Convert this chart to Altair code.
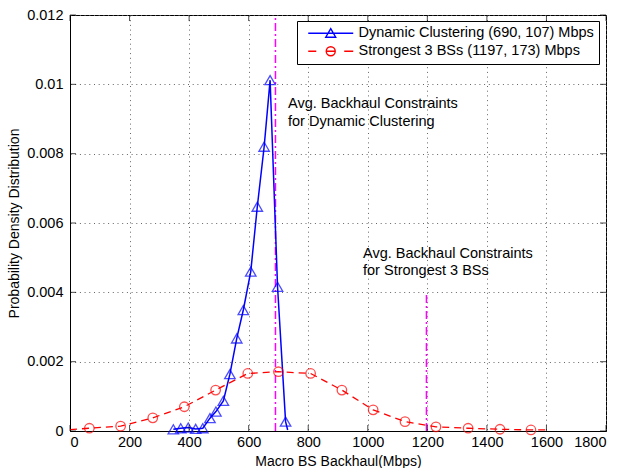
import altair as alt
import pandas as pd

# ---------------- data ----------------
series_names = ["Dynamic Clustering (690, 107) Mbps", "Strongest 3 BSs (1197, 173) Mbps"]
series_colors = ["#0000ff", "#ff0000"]

# Dynamic Clustering curve (last point is the line end, no marker)
dc_x = [347, 372, 397, 422, 446, 470, 490, 515, 537, 560, 582, 607, 629, 652, 672, 697, 724, 731]
dc_y = [0.00005, 0.00008, 0.0001, 0.00006, 0.00008, 0.00037, 0.00056, 0.00087, 0.00164,
        0.00267, 0.00349, 0.0046, 0.00647, 0.0082, 0.01012, 0.00416, 0.00027, 0.00003]
dc_marker = [True, True, True, True, True, True, True, True, True,
             True, True, True, True, True, True, True, True, False]

# Strongest 3 BSs curve (first and last points are line ends, no marker)
s3_x = [0, 65, 170, 278, 384, 489, 597, 700, 808, 913, 1018, 1125, 1229, 1337, 1444, 1548, 1600]
s3_y = [0.00004, 0.00008, 0.00014, 0.00038, 0.0007, 0.00118, 0.00166, 0.00171, 0.00166,
        0.00118, 0.00061, 0.00027, 0.00012, 0.00008, 0.00005, 0.00003, 0.00003]
s3_marker = [False, True, True, True, True, True, True, True, True,
             True, True, True, True, True, True, True, False]

# average backhaul constraints (vertical dash-dot lines)
constraint_x = [690, 1197]
constraint_top = [0.012, 0.004]

# annotations
ann_text = ["Avg. Backhaul Constraints", "for Dynamic Clustering",
            "Avg. Backhaul Constraints", "for Strongest 3 BSs"]
ann_x = [732, 732, 984, 984]
ann_y = [0.00943, 0.00891, 0.00511, 0.00462]

x_ticks = [0, 200, 400, 600, 800, 1000, 1200, 1400, 1600, 1800]
y_ticks = [0, 0.002, 0.004, 0.006, 0.008, 0.01, 0.012]

# ---------------- tables ----------------
dc = pd.DataFrame({"x": dc_x, "y": dc_y, "m": dc_marker})
s3 = pd.DataFrame({"x": s3_x, "y": s3_y, "m": s3_marker})
cons = pd.DataFrame({"x": constraint_x, "y": [0, 0], "top": constraint_top})
ann = pd.DataFrame({"t": ann_text, "x": ann_x, "y": ann_y})
xt_bottom = pd.DataFrame({"x": x_ticks, "y": [y_ticks[0]] * len(x_ticks)})
xt_top = pd.DataFrame({"x": x_ticks, "y": [y_ticks[-1]] * len(x_ticks)})
yt_left = pd.DataFrame({"y": y_ticks, "x": [x_ticks[0]] * len(y_ticks)})
yt_right = pd.DataFrame({"y": y_ticks, "x": [x_ticks[-1]] * len(y_ticks)})
leg = pd.DataFrame({"series": series_names})

FONT = "Liberation Sans"
xs = alt.Scale(domain=[0, 1800], nice=False, zero=False)
ys = alt.Scale(domain=[0, 0.012], nice=False)

X = alt.X("x:Q", scale=xs,
          axis=alt.Axis(values=x_ticks, format="d", title="Macro BS Backhaul(Mbps)",
                        grid=True, ticks=False, labelPadding=4, titleY=30,
                        titleBaseline="middle"))
Y = alt.Y("y:Q", scale=ys,
          axis=alt.Axis(values=y_ticks, format="~g", title="Probability Density Distribution",
                        grid=True, ticks=False, labelPadding=7, titleX=-56, titleY=208,
                        titleBaseline="middle"))

cons_layer = alt.Chart(cons).mark_rule(color="#ff00ff", strokeWidth=1.5,
                                       strokeDash=[8, 3, 2, 3]).encode(
    x=X, y=Y, y2="top:Q")

dc_line = alt.Chart(dc).mark_line(color=series_colors[0], strokeWidth=1.5).encode(
    x=X, y=Y, order="x:Q")
s3_line = alt.Chart(s3).mark_line(color=series_colors[1], strokeWidth=1.3,
                                  strokeDash=[7, 5]).encode(x=X, y=Y, order="x:Q")

dc_pts = alt.Chart(dc).transform_filter("datum.m").mark_point(
    shape="triangle-up", size=110, filled=False, color=series_colors[0], strokeWidth=1.3
).encode(x=X, y=Y)
s3_pts = alt.Chart(s3).transform_filter("datum.m").mark_point(
    shape="circle", size=90, filled=False, color=series_colors[1], strokeWidth=1.3
).encode(x=X, y=Y)

ann_layer = alt.Chart(ann).mark_text(align="left", baseline="middle", font=FONT,
                                     fontSize=14.5, color="black").encode(
    x=X, y=Y, text="t:N")

# inward tick marks on all four sides
tick_b = alt.Chart(xt_bottom).mark_tick(orient="vertical", size=6, thickness=1,
                                        color="black", yOffset=-3).encode(x=X, y=Y)
tick_t = alt.Chart(xt_top).mark_tick(orient="vertical", size=6, thickness=1,
                                     color="black", yOffset=3).encode(x=X, y=Y)
tick_l = alt.Chart(yt_left).mark_tick(orient="horizontal", size=6, thickness=1,
                                      color="black", xOffset=3).encode(x=X, y=Y)
tick_r = alt.Chart(yt_right).mark_tick(orient="horizontal", size=6, thickness=1,
                                       color="black", xOffset=-3).encode(x=X, y=Y)

# legend carrier: custom path symbols (line + marker)
blue_sym = "M-0.17,0L7.33,0M3.58,-0.77L4.41,0.67L2.75,0.67Z"
red_sym = ("M-0.17,0L1.17,0M5.83,0L7.33,0M2.83,0L4.33,0"
           "M4.33,0A0.75,0.75 0 1,1 2.83,0A0.75,0.75 0 1,1 4.33,0")
legend_layer = alt.Chart(leg).mark_point(opacity=0, filled=False, strokeWidth=1.4).encode(
    color=alt.Color("series:N", scale=alt.Scale(domain=series_names, range=series_colors),
                    legend=alt.Legend(title=None, orient="none", legendX=227, legendY=6,
                                      symbolSize=144, symbolOpacity=1,
                                      symbolStrokeWidth=1.4, labelOffset=42)),
    shape=alt.Shape("series:N", scale=alt.Scale(domain=series_names,
                                                range=[blue_sym, red_sym])),
)

chart = alt.layer(
    cons_layer, s3_line, dc_line, s3_pts, dc_pts, ann_layer,
    tick_b, tick_t, tick_l, tick_r, legend_layer
).properties(
    width=536, height=416, autosize="none",
    padding={"left": 70, "top": 15, "right": 17, "bottom": 37},
    background="white",
).configure_view(stroke="black", strokeWidth=1).configure_axis(
    labelFont=FONT, titleFont=FONT, labelFontSize=14.5, titleFontSize=14,
    titleFontWeight="normal", labelColor="black", titleColor="black",
    domainColor="black", gridColor="#666666", gridDash=[1, 3.7], gridOpacity=1,
    gridWidth=1,
).configure_legend(
    labelFont=FONT, labelFontSize=14.5, labelColor="black", fillColor="white",
    strokeColor="black", padding=5, rowPadding=2, labelLimit=400,
)

chart.save("out.html", embed_options={"renderer": "svg", "actions": False})
